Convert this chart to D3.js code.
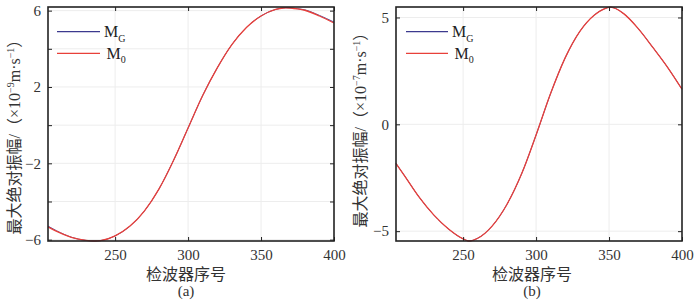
<!DOCTYPE html>
<html><head><meta charset="utf-8">
<script src="https://cdn.jsdelivr.net/npm/d3@7"></script>
<style>html,body{margin:0;padding:0;background:#fff;}svg{display:block;}</style>
</head><body>
<svg id="c" width="700" height="300"></svg>
<script>
// ---- data ----
const seriesNames = ["M_G", "M_0"];
const xTicks = [250, 300, 350, 400];
const aYTicks = [-6, -4, -2, 0, 2, 4, 6];
const aYLabels = [-6, -2, 2, 6];
const bYTicks = [-5, 0, 5];
const bYLabels = [-5, 0, 5];
const panelTags = ["(a)", "(b)"];
const xTitle = "检波器序号";

const aX  = [204, 210, 220, 230, 236, 240, 250, 260, 270, 280, 290, 300, 310, 320, 330, 340, 350, 360, 367, 375, 380, 390, 400];
const aM0 = [-5.33, -5.57, -5.88, -6.04, -6.07, -6.05, -5.80, -5.30, -4.50, -3.35, -1.85, -0.15, 1.55, 3.00, 4.22, 5.12, 5.72, 6.06, 6.15, 6.09, 6.02, 5.72, 5.35];
const aMG = [-5.29, -5.54, -5.87, -6.04, -6.07, -6.05, -5.80, -5.30, -4.50, -3.35, -1.85, -0.15, 1.55, 3.00, 4.22, 5.12, 5.72, 6.06, 6.15, 6.10, 6.04, 5.75, 5.40];

const bX  = [204, 210, 220, 230, 240, 250, 254, 260, 270, 280, 290, 300, 310, 320, 330, 340, 346, 351, 360, 370, 380, 390, 400];
const bM0 = [-1.83, -2.42, -3.42, -4.25, -4.90, -5.36, -5.46, -5.33, -4.75, -3.75, -2.33, -0.50, 1.45, 3.12, 4.35, 5.12, 5.38, 5.48, 5.18, 4.48, 3.60, 2.68, 1.64];
const bMG = bM0.slice();

const xDomain = [204, 400];
const aYDomain = [-6.07, 6.19];
const bYDomain = [-5.46, 5.49];

// ---- drawing ----
const svg = d3.select("#c");
const colors = {M_G: "#3c3a8e", M_0: "#e8403a"};
const widths = {M_G: 0.9, M_0: 1.3};
const serif = "'Liberation Serif','Times New Roman',serif";
const cjk = "'Liberation Serif','Noto Sans CJK SC',serif";

function panel(opt) {
  const {left, right, top, bottom, xs, series, yDomain, yTicks, yLabels, exp, tag, ylabX, ylabY, titleX, legX, textX} = opt;
  const x = d3.scaleLinear().domain(xDomain).range([left, right]);
  const y = d3.scaleLinear().domain(yDomain).range([bottom, top]);
  const g = svg.append("g");
  g.selectAll(".gx").data(xTicks.filter(t => t < xDomain[1])).enter().append("line")
    .attr("x1", d => x(d)).attr("x2", d => x(d)).attr("y1", top).attr("y2", bottom)
    .attr("stroke", "#ededed").attr("stroke-width", 1);
  g.selectAll(".gy").data(yTicks).enter().append("line")
    .attr("y1", d => y(d)).attr("y2", d => y(d)).attr("x1", left).attr("x2", right)
    .attr("stroke", "#ededed").attr("stroke-width", 1);
  const line = d3.line().x((d, i) => x(xs[i])).y(d => y(d)).curve(d3.curveMonotoneX);
  series.forEach(s => {
    g.append("path").datum(s.values).attr("d", line).attr("fill", "none")
      .attr("stroke", colors[s.name]).attr("stroke-width", widths[s.name]);
  });
  const tl = 4;
  const axB = d3.axisBottom(x).tickValues(xTicks).tickSize(-tl).tickPadding(8).tickFormat(d3.format("d"));
  const axT = d3.axisTop(x).tickValues(xTicks).tickSize(-tl).tickFormat("");
  const axL = d3.axisLeft(y).tickValues(yTicks).tickSize(-tl).tickPadding(7)
    .tickFormat(d => yLabels.includes(d) ? (d < 0 ? "−" + Math.abs(d) : String(d)) : "");
  const axR = d3.axisRight(y).tickValues(yTicks).tickSize(-tl).tickFormat("");
  const styleAx = sel => {
    sel.select(".domain").remove();
    sel.selectAll("line").attr("stroke", "#222").attr("stroke-width", 1);
    sel.selectAll("text").attr("font-family", serif).attr("font-size", 15).attr("fill", "#333");
  };
  g.append("g").attr("transform", `translate(0,${bottom})`).call(axB).call(styleAx);
  g.append("g").attr("transform", `translate(0,${top})`).call(axT).call(styleAx);
  g.append("g").attr("transform", `translate(${left},0)`).call(axL).call(styleAx);
  g.append("g").attr("transform", `translate(${right},0)`).call(axR).call(styleAx);
  g.append("rect").attr("x", left).attr("y", top).attr("width", right - left).attr("height", bottom - top)
    .attr("fill", "none").attr("stroke", "#222").attr("stroke-width", 1.6);
  series.forEach((s, i) => {
    const ly = [31.7, 53.3][i];
    g.append("line").attr("x1", legX[0]).attr("x2", legX[1]).attr("y1", ly).attr("y2", ly)
      .attr("stroke", colors[s.name]).attr("stroke-width", 1.3);
    const t = g.append("text").attr("x", textX + i * 2.5).attr("y", ly + 5.5)
      .attr("font-family", serif).attr("font-size", 16).attr("fill", "#222");
    t.append("tspan").text("M");
    t.append("tspan").attr("font-size", 10).attr("dy", 4.5).text(s.name.split("_")[1]);
  });
  svg.append("text").attr("x", titleX).attr("y", 280).attr("text-anchor", "middle")
    .attr("font-family", cjk).attr("font-size", 16).attr("fill", "#333").text(xTitle);
  svg.append("text").attr("x", titleX).attr("y", 295.5).attr("text-anchor", "middle")
    .attr("font-family", serif).attr("font-size", 15).attr("fill", "#333").text(tag);
  const yt = svg.append("text").attr("transform", `translate(${ylabX},${ylabY}) rotate(-90)`)
    .attr("text-anchor", "middle").attr("font-family", cjk).attr("font-size", 16).attr("fill", "#333");
  yt.append("tspan").text("最大绝对振幅/（×10");
  yt.append("tspan").attr("font-size", 10).attr("dy", -6).text("−" + exp);
  yt.append("tspan").attr("dy", 6).text("m·s");
  yt.append("tspan").attr("font-size", 10).attr("dy", -6).text("−1");
  yt.append("tspan").attr("dy", 6).text("）");
}

panel({left: 48, right: 334, top: 7, bottom: 241, xs: aX,
  series: [{name: "M_G", values: aMG}, {name: "M_0", values: aM0}],
  yDomain: aYDomain, yTicks: aYTicks, yLabels: aYLabels, exp: "9", tag: panelTags[0],
  ylabX: 20, ylabY: 133, titleX: 186, legX: [57, 100], textX: 104});
panel({left: 396, right: 682, top: 7, bottom: 241, xs: bX,
  series: [{name: "M_G", values: bMG}, {name: "M_0", values: bM0}],
  yDomain: bYDomain, yTicks: bYTicks, yLabels: bYLabels, exp: "7", tag: panelTags[1],
  ylabX: 366, ylabY: 126, titleX: 532, legX: [406, 448], textX: 452});
</script>
</body></html>
